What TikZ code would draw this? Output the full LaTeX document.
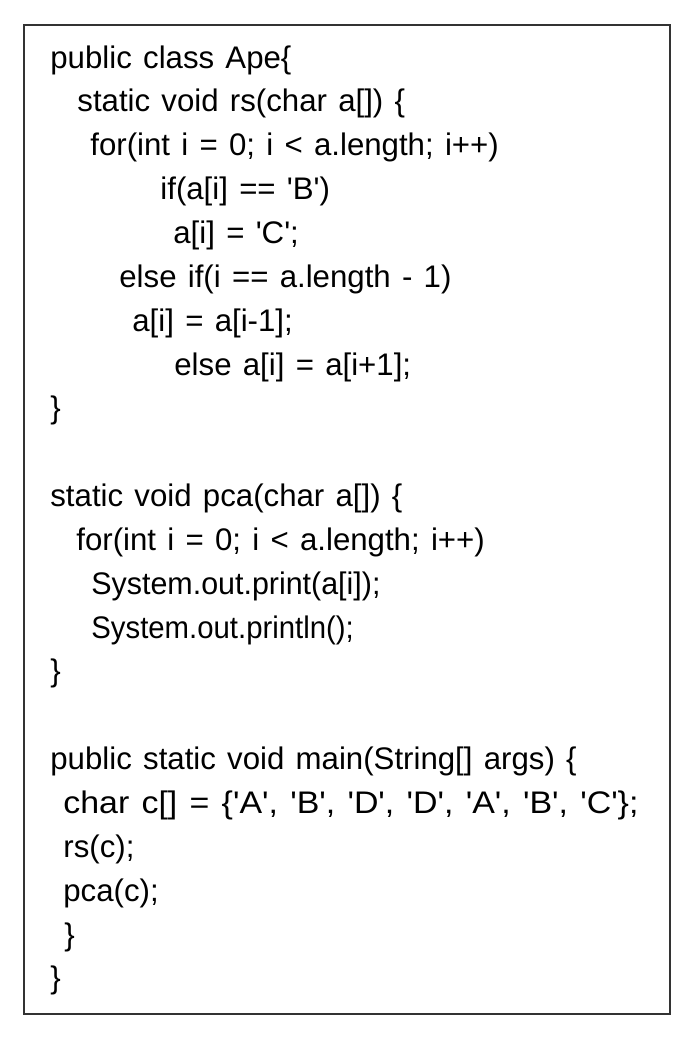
\documentclass[tikz,border=0pt]{standalone}
\usepackage{fontspec}
\setmainfont{Liberation Sans}[WordSpace=1.3]
\usepackage{tikz}
\usetikzlibrary{positioning}
\tikzset{code/.style={anchor=base west,inner sep=0pt,font=\fontsize{15.6}{18}\selectfont}}
\tikzstyle{frame}=[draw=black!80,line width=1pt]
\newcommand{\sq}{\textquotesingle}

\begin{document}
\begin{tikzpicture}[x=0.5pt,y=-0.5pt]
    \useasboundingbox (0,0) rectangle (693,1040);
    \draw [frame] (24,25) rectangle (670,1014);
    % rs method
    \node [code] (l1) at (50,68) {public class Ape\{};
    \node [code] (l2) at (77,111.9) {static void rs(char a[]) \{};
    \node [code] (l3) at (90,155.7) {for(int i = 0; i < a.length; i++)};
    \node [code] (l4) at (160,199.6) {if(a[i] == \sq B\sq)};
    \node [code] (l5) at (173,243.4) {a[i] = \sq C\sq;};
    \node [code] (l6) at (119,287.3) {else if(i == a.length - 1)};
    \node [code] (l7) at (132,331.1) {a[i] = a[i-1];};
    \node [code] (l8) at (174,375) {else a[i] = a[i+1];};
    \node [code] (l9) at (50,418.8) {\}};
    % pca method
    \node [code] (l11) at (50,506.5) {static void pca(char a[]) \{};
    \node [code] (l12) at (76,550.4) {for(int i = 0; i < a.length; i++)};
    \node [code] (l13) at (91,594.2) {\scalebox{0.975}[1]{System.out.print(a[i]);}};
    \node [code] (l14) at (91,638.1) {\scalebox{0.94}[1]{System.out.println();}};
    \node [code] (l15) at (50,681.9) {\}};
    % main
    \node [code] (l17) at (50,769.6) {public static void main(String[] args) \{};
    \node [code] (l18) at (63,813.5) {\scalebox{1.087}[1]{char c[] = \{\sq A\sq, \sq B\sq, \sq D\sq, \sq D\sq, \sq A\sq, \sq B\sq, \sq C\sq\};}};
    \node [code] (l19) at (63,857.3) {rs(c);};
    \node [code] (l20) at (63,901.2) {pca(c);};
    \node [code] (l21) at (64,945) {\}};
    \node [code] (l22) at (50,988.9) {\}};
\end{tikzpicture}
\end{document}
